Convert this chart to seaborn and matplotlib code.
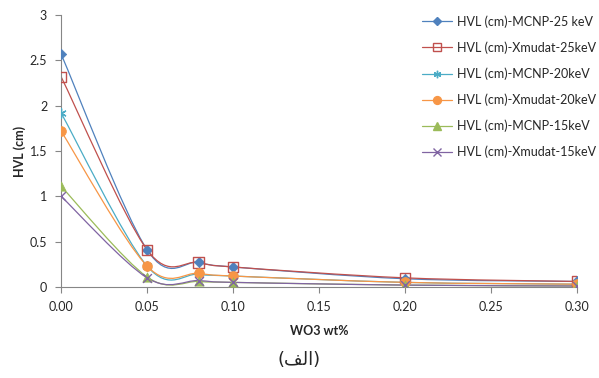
import numpy as np
import pandas as pd
import seaborn as sns
import matplotlib.pyplot as plt
from matplotlib.path import Path
from matplotlib.patches import PathPatch
from matplotlib.lines import Line2D

wt = [0.00, 0.05, 0.08, 0.10, 0.20, 0.30]
mcnp_25 = [2.57, 0.41, 0.27, 0.22, 0.09, 0.06]
xmudat_25 = [2.32, 0.41, 0.27, 0.22, 0.10, 0.06]
mcnp_20 = [1.92, 0.23, 0.14, 0.12, 0.05, 0.03]
xmudat_20 = [1.72, 0.23, 0.15, 0.12, 0.05, 0.03]
mcnp_15 = [1.11, 0.11, 0.06, 0.05, 0.02, 0.01]
xmudat_15 = [1.00, 0.10, 0.07, 0.05, 0.02, 0.01]

labels = ["HVL (cm)-MCNP-25 keV", "HVL (cm)-Xmudat-25keV", "HVL (cm)-MCNP-20keV",
          "HVL (cm)-Xmudat-20keV", "HVL (cm)-MCNP-15keV", "HVL (cm)-Xmudat-15keV"]
series = [mcnp_25, xmudat_25, mcnp_20, xmudat_20, mcnp_15, xmudat_15]
colors = ["#4F81BD", "#C0504D", "#4BACC6", "#F79646", "#9BBB59", "#8064A2"]
markers = ["D", "s", (6, 2, 0), "o", "^", "x"]
sizes = [28, 55, 45, 50, 45, 40]

df = pd.DataFrame({"wt": wt * len(series),
                   "hvl": np.concatenate(series),
                   "name": np.repeat(labels, len(wt))})

sns.set_style("white")
plt.rcParams["font.family"] = ["Lato", "DejaVu Sans"]

fig = plt.figure(figsize=(5.99, 3.78), dpi=100)
ax = fig.add_axes([0.102, 0.241, 0.861, 0.719])


def smooth_path(x, y):
    # excel-style smoothed line: cubic bezier through the points
    pts = np.column_stack([x, y])
    n = len(pts)
    verts = [pts[0]]
    codes = [Path.MOVETO]
    for i in range(n - 1):
        p0 = pts[max(i - 1, 0)]
        p1 = pts[i]
        p2 = pts[i + 1]
        p3 = pts[min(i + 2, n - 1)]
        verts += [p1 + (p2 - p0) / 6, p2 - (p3 - p1) / 6, p2]
        codes += [Path.CURVE4] * 3
    return Path(verts, codes)


handles = []
for i, name in enumerate(labels):
    sub = df[df["name"] == name]
    ax.add_patch(PathPatch(smooth_path(sub["wt"].values, sub["hvl"].values),
                           fill=False, edgecolor=colors[i], lw=0.9, zorder=2))
    kw = dict(marker=markers[i], s=sizes[i], zorder=3)
    if markers[i] == "s":
        kw.update(facecolor="none", edgecolor=colors[i], linewidth=1.0)
    elif markers[i] in ["x", (6, 2, 0)]:
        kw.update(color=colors[i], linewidth=1.0)
    else:
        kw.update(color=colors[i], edgecolor=colors[i], linewidth=0.5)
    sns.scatterplot(data=sub, x="wt", y="hvl", ax=ax, legend=False, **kw)
    handles.append(Line2D([], [], color=colors[i], lw=0.9, marker=markers[i],
                          markersize=np.sqrt(sizes[i]) * 0.8,
                          markerfacecolor="none" if markers[i] == "s" else colors[i],
                          markeredgecolor=colors[i]))

ax.set_xlim(0, 0.30)
ax.set_ylim(0, 3)
ax.set_xticks([0, 0.05, 0.10, 0.15, 0.20, 0.25, 0.30])
ax.set_xticklabels(["0.00", "0.05", "0.10", "0.15", "0.20", "0.25", "0.30"])
ax.set_yticks([0, 0.5, 1, 1.5, 2, 2.5, 3])
ax.set_yticklabels(["0", "0.5", "1", "1.5", "2", "2.5", "3"])
ax.tick_params(axis="both", direction="out", length=4, width=0.8, color="#868686",
               labelsize=9, bottom=True, left=True, pad=6)
ax.spines["top"].set_visible(False)
ax.spines["right"].set_visible(False)
for s in ["left", "bottom"]:
    ax.spines[s].set_color("#868686")
    ax.spines[s].set_linewidth(0.8)
ax.set_xlabel("WO3 wt%", fontsize=9, fontweight="bold", labelpad=9)
ax.set_ylabel("HVL (cm)", fontsize=9, fontweight="bold", labelpad=3)

fig.legend(handles=handles, labels=labels, loc="upper left",
           bbox_to_anchor=(411 / 599, 1 - 4 / 378), frameon=False, fontsize=9,
           labelspacing=1.08, handlelength=2.4, handletextpad=0.4)

fig.text(0.5, 1 - 360 / 378, "(\uFED2\uFEDF\uFE8D)", ha="center", va="center",
         fontsize=13, family=["DejaVu Sans"])

fig.savefig("out.png", dpi=100)
